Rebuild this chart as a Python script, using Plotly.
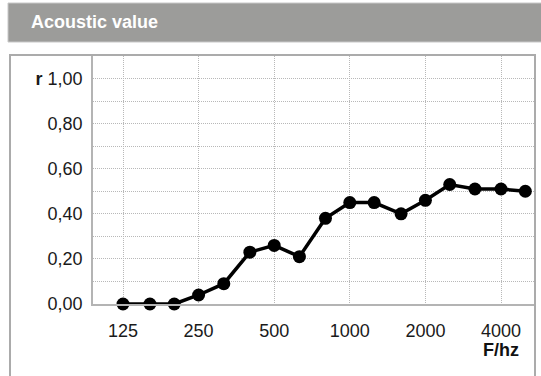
import math
import plotly.graph_objects as go

# third-octave band centre frequencies (Hz) and absorption coefficient r
freqs = [125, 160, 200, 250, 315, 400, 500, 630, 800, 1000,
         1250, 1600, 2000, 2500, 3150, 4000, 5000]
r_values = [0.00, 0.00, 0.00, 0.04, 0.09, 0.23, 0.26, 0.21, 0.38, 0.45,
            0.45, 0.40, 0.46, 0.53, 0.51, 0.51, 0.50]

x_ticks = [125, 250, 500, 1000, 2000, 4000]
x_tick_labels = ['125', '250', '500', '1000', '2000', '4000']
y_ticks = [0, 0.2, 0.4, 0.6, 0.8, 1.0]
y_tick_labels = ['0,00', '0,20', '0,40', '0,60', '0,80', '<b>r</b> 1,00']

W, H = 541, 376
# plot area in pixels
L, R, T, B = 93, 535, 56, 304


def px(x):
    return (x - L) / (R - L)


def py(y):
    return (B - y) / (B - T)


FONT = 'Liberation Sans, Arial, sans-serif'
GRID = dict(showgrid=True, gridcolor='#b8b8b8', griddash='1px,1px', gridwidth=1)

fig = go.Figure(go.Scatter(
    x=freqs, y=r_values, mode='lines+markers',
    line=dict(color='black', width=3.5),
    marker=dict(color='black', size=13),
    cliponaxis=False,
))

fig.update_layout(
    width=W, height=H,
    margin=dict(l=L, r=W - R, t=T, b=H - B),
    paper_bgcolor='white', plot_bgcolor='white',
    showlegend=False,
    font=dict(family=FONT, size=18, color='#1a1a1a'),
    shapes=[
        # header bar
        dict(type='rect', xref='paper', yref='paper',
             x0=px(8), x1=px(545), y0=py(42), y1=py(3),
             fillcolor='#9c9c9a', line=dict(color='#c8c8c8', width=1), layer='below'),
        # panel frame
        dict(type='rect', xref='paper', yref='paper',
             x0=px(10), x1=px(535), y0=py(385), y1=py(55),
             fillcolor='rgba(0,0,0,0)', line=dict(color='#ababab', width=2)),
    ],
    annotations=[
        dict(text='<b>Acoustic value</b>', xref='paper', yref='paper',
             x=px(29), y=py(22), xanchor='left', yanchor='middle',
             showarrow=False, font=dict(family=FONT, size=18, color='white')),
        dict(text='<b>F/hz</b>', xref='paper', yref='paper',
             x=px(521), y=py(350), xanchor='right', yanchor='middle',
             showarrow=False, font=dict(family=FONT, size=18, color='#111')),
    ],
)

fig.update_xaxes(
    type='log',
    range=[math.log10(125) - 30 / 251.1, math.log10(4000) + 34 / 251.1],
    tickvals=x_ticks, ticktext=x_tick_labels,
    showline=True, linecolor='#b4b4b4', linewidth=1.5,
    ticks='outside', ticklen=10, tickcolor='rgba(0,0,0,0)',
    zeroline=False, **GRID,
)
fig.update_yaxes(
    range=[0, 1.1],
    tickvals=y_ticks, ticktext=y_tick_labels,
    minor=dict(tickvals=[0.1, 0.3, 0.5, 0.7, 0.9], **GRID),
    showline=True, linecolor='#b4b4b4', linewidth=1.5,
    ticks='outside', ticklen=5, tickcolor='rgba(0,0,0,0)',
    zeroline=False, **GRID,
)

fig.write_html('out.html', config={'displayModeBar': False},
               post_script="document.body.style.margin='0';")
